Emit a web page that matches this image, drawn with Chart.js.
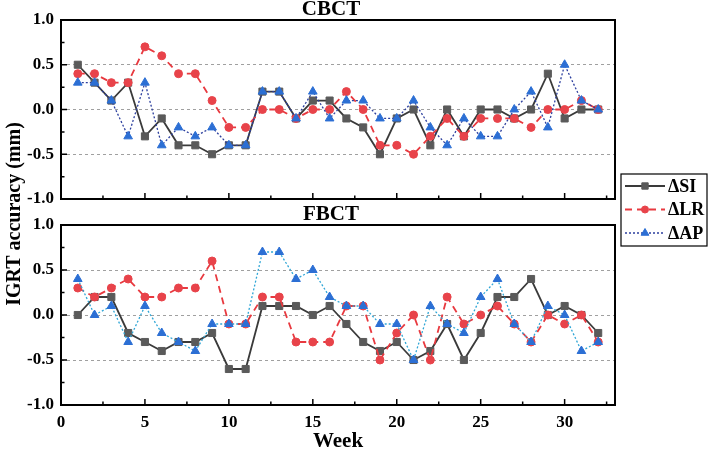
<!DOCTYPE html>
<html><head><meta charset="utf-8">
<script src="https://cdn.jsdelivr.net/npm/chart.js@4/dist/chart.umd.min.js"></script>
<style>
html,body{margin:0;padding:0;background:#fff;}
#wrap{position:relative;width:709px;height:452px;background:#fff;}
canvas{position:absolute;left:0;top:0;}
</style></head><body>
<div id="wrap"><canvas id="c1" width="709" height="452"></canvas><canvas id="c2" width="709" height="452"></canvas></div>
<script>
// ---- data ----
const weeks = [1,2,3,4,5,6,7,8,9,10,11,12,13,14,15,16,17,18,19,20,21,22,23,24,25,26,27,28,29,30,31,32];
const cbctSI = [0.5,0.3,0.1,0.3,-0.3,-0.1,-0.4,-0.4,-0.5,-0.4,-0.4,0.2,0.2,-0.1,0.1,0.1,-0.1,-0.2,-0.5,-0.1,0.0,-0.4,0.0,-0.3,0.0,0.0,-0.1,0.0,0.4,-0.1,0.0,0.0];
const cbctLR = [0.4,0.4,0.3,0.3,0.7,0.6,0.4,0.4,0.1,-0.2,-0.2,0.0,0.0,-0.1,0.0,0.0,0.2,0.0,-0.4,-0.4,-0.5,-0.3,-0.1,-0.3,-0.1,-0.1,-0.1,-0.2,0.0,0.0,0.1,0.0];
const cbctAP = [0.3,0.3,0.1,-0.3,0.3,-0.4,-0.2,-0.3,-0.2,-0.4,-0.4,0.2,0.2,-0.1,0.2,-0.1,0.1,0.1,-0.1,-0.1,0.1,-0.2,-0.4,-0.1,-0.3,-0.3,0.0,0.2,-0.2,0.5,0.1,0.0];
const fbctSI = [0.0,0.2,0.2,-0.2,-0.3,-0.4,-0.3,-0.3,-0.2,-0.6,-0.6,0.1,0.1,0.1,0.0,0.1,-0.1,-0.3,-0.4,-0.3,-0.5,-0.4,-0.1,-0.5,-0.2,0.2,0.2,0.4,0.0,0.1,0.0,-0.2];
const fbctLR = [0.3,0.2,0.3,0.4,0.2,0.2,0.3,0.3,0.6,-0.1,-0.1,0.2,0.2,-0.3,-0.3,-0.3,0.1,0.1,-0.5,-0.2,0.0,-0.5,0.2,-0.1,0.0,0.1,-0.1,-0.3,0.0,-0.1,0.0,-0.3];
const fbctAP = [0.4,0.0,0.1,-0.3,0.1,-0.2,-0.3,-0.4,-0.1,-0.1,-0.1,0.7,0.7,0.4,0.5,0.2,0.1,0.1,-0.1,-0.1,-0.5,0.1,-0.1,-0.2,0.2,0.4,-0.1,-0.3,0.1,0.0,-0.4,-0.3];
const seriesLabels = ['\u0394SI','\u0394LR','\u0394AP'];
const panelTitles = ['CBCT','FBCT'];
const yTicks = [-1,-0.5,0,0.5,1];
const xTicks = [0,5,10,15,20,25,30];
const xRange = [0,33];
const yRange = [-1,1];
const yTitle = 'IGRT accuracy (mm)';
const xTitle = 'Week';

// ---- styles ----
const FONT = '"Liberation Serif","Times New Roman",serif';
const styles = {
  SI: {color:'#3a3a3a', fill:'#5a5a5a', dash:[], width:1.8, point:'rect', radius:5},
  LR: {color:'#e8393f', fill:'#e8434a', dash:[7,5], width:1.8, point:'circle', radius:4},
  APtop: {color:'#2c3f9e', fill:'#2c6fd4', dash:[2,2], width:1.3, point:'triangle', radius:5},
  APbot: {color:'#2fa6d6', fill:'#2c6fd4', dash:[2,2], width:1.3, point:'triangle', radius:5}
};
function ds(label, arr, st, order){
  return {label, data: weeks.map((w,i)=>({x:w,y:arr[i]})), borderColor:st.color, backgroundColor:st.fill,
    pointBackgroundColor:st.fill, pointBorderColor:st.fill, borderWidth:st.width, borderDash:st.dash,
    pointStyle:st.point, pointRadius:st.radius, pointHoverRadius:st.radius, pointBorderWidth:1, tension:0, order, clip:false};
}

const framePlugin = {
  id:'frame',
  afterDraw(chart){
    const {ctx, chartArea:a, scales:{x,y}} = chart;
    ctx.save();
    ctx.strokeStyle = '#000';
    // inward tick marks
    ctx.lineWidth = 1.5;
    ctx.beginPath();
    for (let v = xRange[0]; v <= xRange[1] + 1e-9; v += 2.5){
      const px = x.getPixelForValue(v);
      const len = (Math.abs(v % 5) < 1e-9) ? 6 : 3.5;
      ctx.moveTo(px, a.bottom); ctx.lineTo(px, a.bottom - len);
    }
    for (let v = yRange[0]; v <= yRange[1] + 1e-9; v += 0.25){
      const py = y.getPixelForValue(v);
      const len = (Math.abs((v*2) % 1) < 1e-9) ? 6 : 3.5;
      ctx.moveTo(a.left, py); ctx.lineTo(a.left + len, py);
    }
    ctx.stroke();
    // frame
    ctx.lineWidth = 2;
    ctx.strokeRect(a.left, a.top, a.right - a.left, a.bottom - a.top);
    // panel title
    const t = chart.options.plugins.frame.title;
    ctx.fillStyle = '#000';
    ctx.font = 'bold 21px ' + FONT;
    ctx.textAlign = 'center'; ctx.textBaseline = 'middle';
    ctx.fillText(t, (a.left + a.right)/2 - 7, a.top - 10);
    ctx.restore();
  }
};

const extrasPlugin = {
  id:'extras',
  afterDraw(chart){
    const {ctx} = chart;
    ctx.save();
    // y title
    ctx.fillStyle = '#000';
    ctx.font = 'bold 20px ' + FONT;
    ctx.textAlign = 'center'; ctx.textBaseline = 'middle';
    ctx.translate(15, 214); ctx.rotate(-Math.PI/2);
    ctx.fillText(yTitle, 0, 0);
    ctx.restore();
    // legend
    ctx.save();
    const bx = 621, by = 174, bw = 86, bh = 72;
    ctx.fillStyle = '#fff';
    ctx.fillRect(bx, by, bw, bh);
    ctx.strokeStyle = '#000'; ctx.lineWidth = 1.2;
    ctx.strokeRect(bx, by, bw, bh);
    const legendStyles = [styles.SI, styles.LR, styles.APtop];
    legendStyles.forEach((st, i) => {
      const yy = by + 12 + i * 23.5;
      ctx.strokeStyle = st.color; ctx.lineWidth = st.width; ctx.setLineDash(st.dash);
      ctx.beginPath(); ctx.moveTo(bx + 4, yy); ctx.lineTo(bx + 44, yy); ctx.stroke();
      ctx.setLineDash([]);
      ctx.fillStyle = st.fill; ctx.strokeStyle = st.fill; ctx.lineWidth = 1;
      Chart.helpers.drawPoint(ctx, {pointStyle: st.point, radius: st.radius - 0.5, rotation:0, borderWidth:1}, bx + 24, yy);
      ctx.fillStyle = '#000';
      ctx.font = 'bold 18px ' + FONT;
      ctx.textAlign = 'left'; ctx.textBaseline = 'middle';
      ctx.fillText(seriesLabels[i], bx + 47, yy + 1);
    });
    ctx.restore();
  }
};

function makeOpts(title, showX, pad){
  return {
    responsive:false, devicePixelRatio:1, animation:false,
    layout:{padding:pad},
    plugins:{legend:{display:false}, tooltip:{enabled:false}, title:{display:false}, frame:{title}},
    scales:{
      x:{type:'linear', min:xRange[0], max:xRange[1], display: showX,
        afterFit(s){ s.height = showX ? 47 : 0; },
        afterBuildTicks(s){ s.ticks = xTicks.map(v=>({value:v})); },
        grid:{display:false, drawTicks:false}, border:{display:false},
        ticks:{color:'#000', font:{family:FONT, size:17, weight:'bold'}, padding:7, maxRotation:0, autoSkip:false},
        title:{display:true, text:xTitle, color:'#000', font:{family:FONT, size:21, weight:'bold'}, padding:{top:0,bottom:-2}}
      },
      y:{type:'linear', min:yRange[0], max:yRange[1],
        afterFit(s){ s.width = 61; },
        afterBuildTicks(s){ s.ticks = yTicks.map(v=>({value:v})); },
        grid:{drawTicks:false, lineWidth:1, color:(c)=> (c.tick && Math.abs(c.tick.value) === 1) ? 'rgba(0,0,0,0)' : '#a0a0a0'},
        border:{display:false, dash:[3,3]},
        ticks:{color:'#000', font:{family:FONT, size:17, weight:'bold'}, padding:7, callback:(v)=>Number(v).toFixed(1)}
      }
    }
  };
}

new Chart(document.getElementById('c1'), {
  type:'line',
  data:{datasets:[ds(seriesLabels[0], cbctSI, styles.SI, 2), ds(seriesLabels[1], cbctLR, styles.LR, 1), ds(seriesLabels[2], cbctAP, styles.APtop, 0)]},
  options: makeOpts(panelTitles[0], false, {left:0, right:94, top:20, bottom:253}),
  plugins:[framePlugin]
});
new Chart(document.getElementById('c2'), {
  type:'line',
  data:{datasets:[ds(seriesLabels[0], fbctSI, styles.SI, 2), ds(seriesLabels[1], fbctLR, styles.LR, 1), ds(seriesLabels[2], fbctAP, styles.APbot, 0)]},
  options: makeOpts(panelTitles[1], true, {left:0, right:94, top:225, bottom:0}),
  plugins:[framePlugin, extrasPlugin]
});
</script>
</body></html>
